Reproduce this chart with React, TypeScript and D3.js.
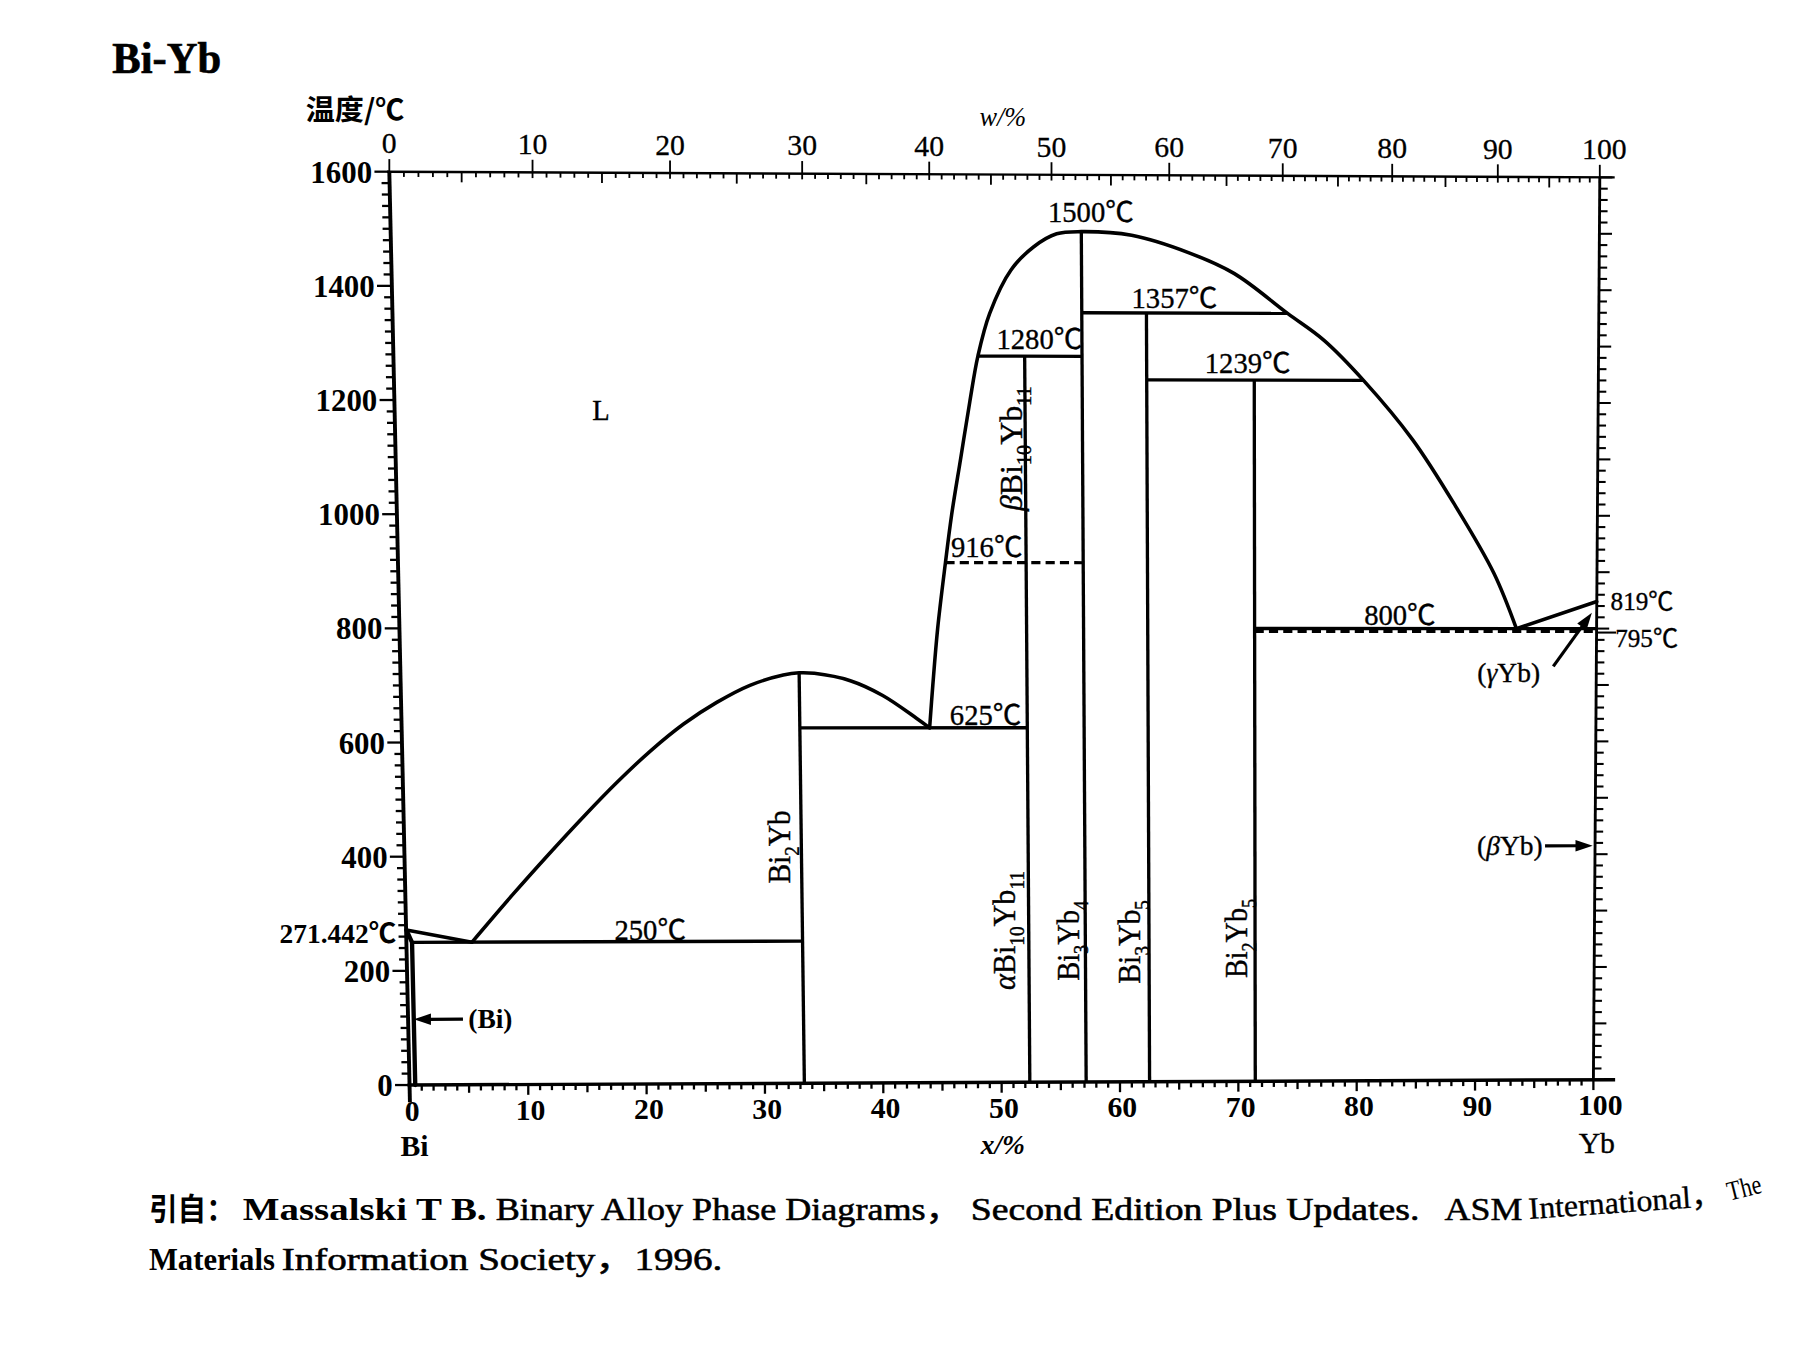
import React from "react";
import * as d3 from "d3";

type Pt = [number, number];

// ---------------- data (x = atomic % Yb, T = °C) ----------------
const liquidusBiSide: Pt[] = [[0, 271.442], [5.5, 250]];
const liquidusBi2Yb: Pt[] = [
  [5.5, 250], [9, 333], [12.2, 406], [15.1, 470], [17.9, 529], [20.8, 585], [23.6, 632],
  [26.4, 670], [29.2, 700], [32.0, 718], [33.33, 722], [34.6, 721], [37.6, 708],
  [40.3, 682], [43.1, 642], [44.2, 625],
];
const liquidusMain: Pt[] = [
  [44.2, 625], [44.5, 700], [44.95, 800], [45.65, 916], [46.2, 1000], [47.0, 1100],
  [47.8, 1200], [48.5, 1280], [49.5, 1355], [51.3, 1432], [53.2, 1473], [55.1, 1496], [57.14, 1500],
  [61.3, 1494], [66.1, 1463], [69.8, 1427], [74.2, 1357], [77.2, 1310], [80.5, 1239],
  [84.6, 1134], [88.2, 1016], [91.4, 898], [93.3, 800],
];
const liquidusYbSide: Pt[] = [[93.3, 800], [100, 848]];
const biSolvus: Pt[] = [[0.45, 0], [0.45, 250], [0, 271.442]];

const compoundX = [33.33, 52.38, 57.14, 62.5, 71.43];
const compoundTop = [722, 1280, 1500, 1357, 1239];

const horizT = [250, 625, 1280, 1357, 1239, 800];
const horizFrom = [0.45, 33.33, 48.5, 57.14, 62.5, 71.43];
const horizTo = [33.33, 52.38, 57.14, 74.2, 80.5, 100];

const dashT = [916, 795];
const dashFrom = [45.65, 71.43];
const dashTo = [57.14, 100];

const tempTicks = d3.range(0, 1601, 20);
const tempLabels = [0, 200, 400, 600, 800, 1000, 1200, 1400, 1600];
const atTicks = d3.range(0, 101, 1);
const atLabels = [0, 10, 20, 30, 40, 50, 60, 70, 80, 90, 100];
const wtTicks = d3.range(0, 101, 1);
const wtLabels = [0, 10, 20, 30, 40, 50, 60, 70, 80, 90, 100];

const M_BI = 208.98;
const M_YB = 173.04;

// ---------------- layout ----------------
const VW = 1568;
const VH = 1176;
const C_BL: Pt = [358, 948];
const C_BR: Pt = [1392, 943.4];
const C_TL: Pt = [340, 150];
const C_TR: Pt = [1397.6, 155];
const SERIF = "'Liberation Serif', 'Noto Sans CJK SC', serif";
const CJK = "'Noto Sans CJK SC', 'Liberation Serif', sans-serif";
const CURVE_W = 3.1;
const PHASE_W = 2.9;

const xS = d3.scaleLinear().domain([0, 100]).range([0, 1]);
const tS = d3.scaleLinear().domain([0, 1600]).range([0, 1]);

function P(a: number, t: number): Pt {
  const u = xS(a);
  const v = tS(t);
  return [
    (1 - u) * (1 - v) * C_BL[0] + u * (1 - v) * C_BR[0] + (1 - u) * v * C_TL[0] + u * v * C_TR[0],
    (1 - u) * (1 - v) * C_BL[1] + u * (1 - v) * C_BR[1] + (1 - u) * v * C_TL[1] + u * v * C_TR[1],
  ];
}

function wToAt(w: number): number {
  if (w <= 0) return 0;
  if (w >= 100) return 100;
  const nY = w / M_YB;
  const nB = (100 - w) / M_BI;
  return (nY / (nY + nB)) * 100;
}

const smooth = d3
  .line<Pt>()
  .x((d) => P(d[0], d[1])[0])
  .y((d) => P(d[0], d[1])[1])
  .curve(d3.curveCatmullRom.alpha(0.5));
const straight = d3
  .line<Pt>()
  .x((d) => P(d[0], d[1])[0])
  .y((d) => P(d[0], d[1])[1]);

function Arrow({ from, to }: { from: Pt; to: Pt }) {
  const [x1, y1] = P(from[0], from[1]);
  const [x2, y2] = P(to[0], to[1]);
  const dx = x2 - x1;
  const dy = y2 - y1;
  const L = Math.hypot(dx, dy);
  const ux = dx / L;
  const uy = dy / L;
  const len = 15;
  const hw = 5;
  const bx = x2 - ux * len;
  const by = y2 - uy * len;
  const pts = `${x2},${y2} ${bx - uy * hw},${by + ux * hw} ${bx + uy * hw},${by - ux * hw}`;
  return (
    <g>
      <line x1={x1} y1={y1} x2={bx + ux * 2} y2={by + uy * 2} stroke="#000" strokeWidth={2.8} />
      <polygon points={pts} fill="#000" />
    </g>
  );
}

type Part = { t: string; sub?: boolean; it?: boolean };
const compoundParts: Part[][] = [
  [{ t: "Bi" }, { t: "2", sub: true }, { t: "Yb" }],
  [{ t: "α", it: true }, { t: "Bi" }, { t: "10", sub: true }, { t: "Yb" }, { t: "11", sub: true }],
  [{ t: "Bi" }, { t: "3", sub: true }, { t: "Yb" }, { t: "4", sub: true }],
  [{ t: "Bi" }, { t: "3", sub: true }, { t: "Yb" }, { t: "5", sub: true }],
  [{ t: "Bi" }, { t: "2", sub: true }, { t: "Yb" }, { t: "5", sub: true }],
];
const betaParts: Part[] = [{ t: "β", it: true }, { t: "Bi" }, { t: "10", sub: true }, { t: "Yb" }, { t: "11", sub: true }];
// label baseline x, centre y, length (design frame)
const compoundLabelPos: [number, number, number][] = [
  [690, 740, 64],
  [887, 813, 104],
  [943, 822, 70],
  [996, 823, 73],
  [1089.5, 820, 69],
];

function Formula({ parts, x, y, len, size = 28 }: { parts: Part[]; x: number; y: number; len: number; size?: number }) {
  let cur = 0;
  const spans = parts.map((p, i) => {
    const target = p.sub ? size * 0.28 : 0;
    const dy = target - cur;
    cur = target;
    return (
      <tspan key={i} dy={dy} fontSize={p.sub ? size * 0.64 : size} fontStyle={p.it ? "italic" : "normal"}>
        {p.t}
      </tspan>
    );
  });
  return (
    <text
      transform={`translate(${x},${y}) rotate(-90)`}
      x={-len / 2}
      y={0}
      fontSize={size}
      textLength={len}
      lengthAdjust="spacingAndGlyphs"
      stroke="#000"
      strokeWidth={0.35}
    >
      {spans}
    </text>
  );
}

export default function App() {
  const axisL0 = P(0, 0);
  const axisL1 = P(0, 1600);
  const axisR0 = P(100, 0);
  const axisR1 = P(100, 1600);
  const p795 = P(100, 795);

  return (
    <svg
      width={1795}
      height={1346}
      viewBox={`0 0 ${VW} ${VH}`}
      style={{ position: "absolute", left: 0, top: 0, background: "#fff" }}
      fontFamily={SERIF}
    >
      <rect x={0} y={0} width={VW} height={VH} fill="#fff" />

      {/* Title */}
      <text x={98} y={64} fontSize={38} fontWeight="bold" textLength={95} lengthAdjust="spacingAndGlyphs" stroke="#000" strokeWidth={0.6}>
        Bi-Yb
      </text>
      <text x={267} y={105} fontSize={25} fontWeight="bold" fontFamily={CJK} textLength={86} lengthAdjust="spacingAndGlyphs">
        温度/℃
      </text>
      <text x={876} y={110} fontSize={23} fontStyle="italic" textAnchor="middle">
        w/%
      </text>

      {/* ---------- axes frame ---------- */}
      <line x1={axisL0[0]} y1={axisL0[1] + 15} x2={axisL1[0]} y2={axisL1[1]} stroke="#000" strokeWidth={3.4} />
      <line x1={axisR0[0]} y1={axisR0[1]} x2={axisR1[0]} y2={axisR1[1]} stroke="#000" strokeWidth={2.5} />
      <line x1={axisL0[0] - 2} y1={axisL0[1]} x2={axisR0[0] + 19} y2={axisR0[1] - 0.1} stroke="#000" strokeWidth={3} />
      <line x1={axisL1[0] - 2} y1={axisL1[1]} x2={axisR1[0] + 13} y2={axisR1[1]} stroke="#000" strokeWidth={2.1} />

      {/* top wt% ticks */}
      {wtTicks.map((w) => {
        const [x, y] = P(wToAt(w), 1600);
        const major = w % 10 === 0;
        const mid = w % 5 === 0;
        return (
          <line key={`wt${w}`} x1={x} x2={x} y1={major ? y - 11 : y} y2={y + (major ? 5 : mid ? 9 : 4.5)} stroke="#000" strokeWidth={1.6} />
        );
      })}
      {wtLabels.map((w) => {
        const [x, y] = P(wToAt(w), 1600);
        return (
          <text key={`wl${w}`} x={w === 100 ? x + 4 : x} y={y - 16} fontSize={26} textAnchor="middle" stroke="#000" strokeWidth={0.25}>
            {w}
          </text>
        );
      })}

      {/* bottom at% ticks */}
      {atTicks.map((a) => {
        const [x, y] = P(a, 0);
        const len = a % 10 === 0 ? 9 : a % 5 === 0 ? 7 : 5;
        return <line key={`at${a}`} x1={x} x2={x} y1={y} y2={y + len} stroke="#000" strokeWidth={2} />;
      })}
      {atLabels.map((a) => {
        const [x, y] = P(a, 0);
        return (
          <text key={`al${a}`} x={a === 100 ? x + 6 : x + 2} y={y + 31} fontSize={26} fontWeight="bold" textAnchor="middle">
            {a}
          </text>
        );
      })}

      {/* left temperature ticks */}
      {tempTicks.map((t) => {
        const [x, y] = P(0, t);
        const len = t % 200 === 0 ? 13 : 7;
        return <line key={`lt${t}`} x1={x - len} x2={x} y1={y} y2={y} stroke="#000" strokeWidth={2} />;
      })}
      {tempLabels.map((t) => {
        const [x, y] = P(0, t);
        return (
          <text key={`tl${t}`} x={x - 15} y={y} dy="0.36em" fontSize={27} fontWeight="bold" textAnchor="end">
            {t}
          </text>
        );
      })}

      {/* right temperature ticks */}
      {tempTicks.map((t) => {
        const [x, y] = P(100, t);
        const len = t % 100 === 0 ? 11 : 7;
        return <line key={`rt${t}`} x1={x} x2={x + len} y1={y} y2={y} stroke="#000" strokeWidth={1.8} />;
      })}

      {/* ---------- phase boundaries ---------- */}
      <g fill="none" stroke="#000" strokeLinejoin="round" strokeLinecap="round">
        <path d={straight(biSolvus) || ""} strokeWidth={3.8} />
        <path d={straight(liquidusBiSide) || ""} strokeWidth={CURVE_W} />
        <path d={smooth(liquidusBi2Yb) || ""} strokeWidth={CURVE_W} />
        <path d={smooth(liquidusMain) || ""} strokeWidth={CURVE_W} />
        <path d={straight(liquidusYbSide) || ""} strokeWidth={CURVE_W} />

        {compoundX.map((x, i) => (
          <path key={`c${i}`} d={straight([[x, 0], [x, compoundTop[i]]]) || ""} strokeWidth={PHASE_W} strokeLinecap="butt" />
        ))}
        {horizT.map((t, i) => (
          <path key={`h${i}`} d={straight([[horizFrom[i], t], [horizTo[i], t]]) || ""} strokeWidth={PHASE_W} strokeLinecap="butt" />
        ))}
        {dashT.map((t, i) => (
          <path
            key={`d${i}`}
            d={straight([[dashFrom[i], t], [dashTo[i], t]]) || ""}
            strokeWidth={2.8}
            strokeDasharray="8 4.5"
            strokeLinecap="butt"
          />
        ))}
      </g>

      {/* arrows */}
      <Arrow from={[4.6, 115]} to={[0.45, 115]} />
      <Arrow from={[95.8, 415]} to={[99.8, 415]} />
      <Arrow from={[96.4, 733]} to={[99.6, 828]} />
      <line x1={p795[0]} y1={p795[1] + 1} x2={p795[0] + 17} y2={p795[1] + 1} stroke="#000" strokeWidth={1.8} />

      {/* ---------- labels ---------- */}
      <g stroke="#000" strokeWidth={0.3}>
        <text x={525} y={367} fontSize={25} textAnchor="middle">L</text>
        <g fontSize={25} textAnchor="middle">
          <text x={953} y={194}>1500℃</text>
          <text x={1026} y={269}>1357℃</text>
          <text x={908} y={305}>1280℃</text>
          <text x={1090} y={326}>1239℃</text>
          <text x={862} y={487}>916℃</text>
          <text x={861} y={633}>625℃</text>
          <text x={568} y={821}>250℃</text>
          <text x={1223} y={546}>800℃</text>
        </g>
        <text x={1407} y={533} fontSize={22}>819℃</text>
        <text x={1411} y={565} fontSize={22}>795℃</text>
        <text x={1318} y={596} fontSize={24} textAnchor="middle">
          (<tspan fontStyle="italic">γ</tspan>Yb)
        </text>
        <text x={1319} y={747} fontSize={24} textAnchor="middle">
          (<tspan fontStyle="italic">β</tspan>Yb)
        </text>
        <text x={1395} y={1007} fontSize={26} textAnchor="middle">Yb</text>
      </g>
      <text x={346} y={824} fontSize={24} fontWeight="bold" textAnchor="end">271.442℃</text>
      <text x={409} y={898} fontSize={24} fontWeight="bold">(Bi)</text>

      {compoundParts.map((parts, i) => (
        <Formula key={`f${i}`} parts={parts} x={compoundLabelPos[i][0]} y={compoundLabelPos[i][1]} len={compoundLabelPos[i][2]} />
      ))}
      <Formula parts={betaParts} x={893} y={392} len={109} />

      <text x={362} y={1010} fontSize={26} fontWeight="bold" textAnchor="middle">Bi</text>
      <text x={876} y={1008} fontSize={24} fontWeight="bold" fontStyle="italic" textAnchor="middle">x/%</text>

      {/* ---------- caption ---------- */}
      <g fontSize={27}>
        <text x={130} y={1066} fontFamily={CJK} fontWeight="bold" textLength={75} lengthAdjust="spacingAndGlyphs">引自：</text>
        <text x={212} y={1066} fontWeight="bold" textLength={213} lengthAdjust="spacingAndGlyphs">Massalski T B.</text>
        <text x={433} y={1066} textLength={407} lengthAdjust="spacingAndGlyphs" stroke="#000" strokeWidth={0.5}>
          Binary Alloy Phase Diagrams，
        </text>
        <text x={848} y={1066} textLength={392} lengthAdjust="spacingAndGlyphs" stroke="#000" strokeWidth={0.5}>
          Second Edition Plus Updates.
        </text>
        <text x={1262} y={1066} textLength={68} lengthAdjust="spacingAndGlyphs" stroke="#000" strokeWidth={0.4}>ASM</text>
        <text transform="translate(1336,1065) rotate(-4)" textLength={170} lengthAdjust="spacingAndGlyphs" stroke="#000" strokeWidth={0.3}>International，</text>
        <text transform="translate(1511,1049) rotate(-14)" fontSize={24} textLength={30} lengthAdjust="spacingAndGlyphs">The</text>
        <text x={130} y={1110} fontWeight="bold" textLength={110} lengthAdjust="spacingAndGlyphs">Materials</text>
        <text x={246} y={1110} textLength={385} lengthAdjust="spacingAndGlyphs" stroke="#000" strokeWidth={0.5}>
          Information Society，1996.
        </text>
      </g>
    </svg>
  );
}
